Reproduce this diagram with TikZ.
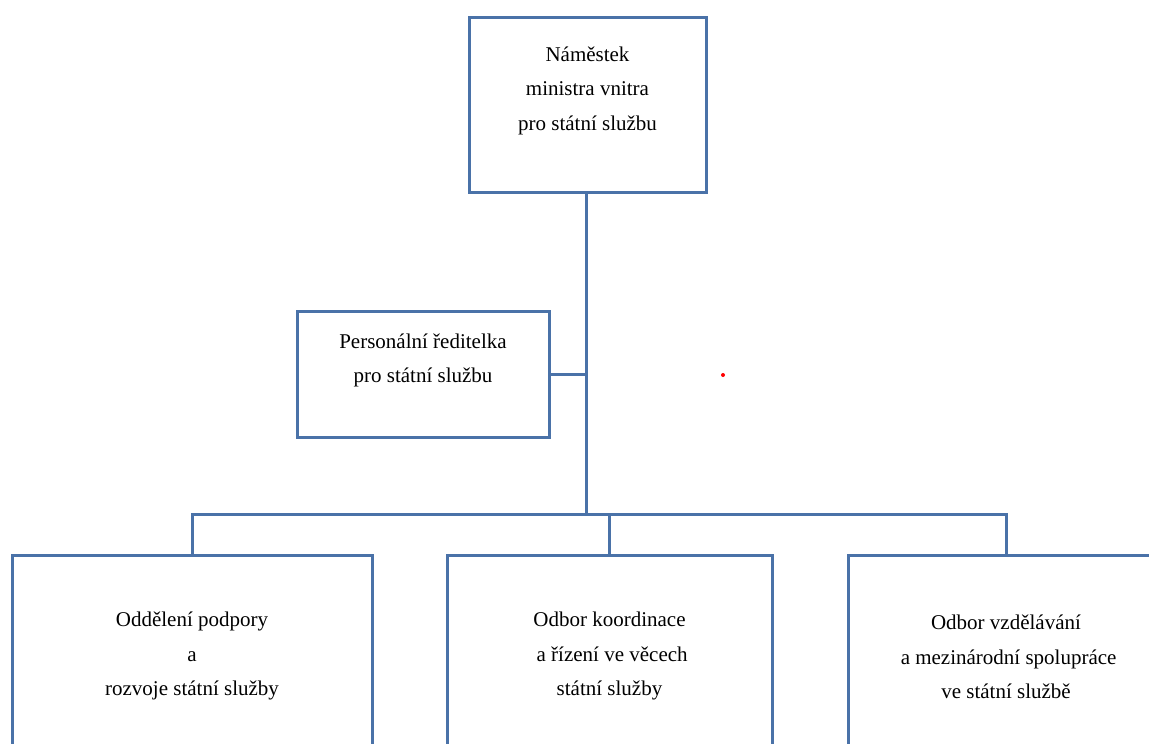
\documentclass[tikz,border=0pt]{standalone}
\usepackage{fontspec}
\setmainfont{Liberation Serif}
\definecolor{orgblue}{HTML}{4A72A8}
\begin{document}
\begin{tikzpicture}[x=1pt,y=-1pt,
  box/.style={draw=orgblue,line width=3pt,fill=white,inner sep=0pt,align=center,
    font=\fontsize{21}{34.5}\selectfont},
  txt/.style={align=center,inner sep=0pt,font=\fontsize{21}{34.5}\selectfont},
  conn/.style={draw=orgblue,line width=3pt}]
\clip (0,0) rectangle (1149,744);
\fill[white] (0,0) rectangle (1149,744);
% boxes
\node[box,minimum width=237pt,minimum height=175pt] (top) at (587.5,105) {};
\node[txt] (toptext) at (587.5,90.5) {Náměstek\\ministra vnitra\\pro státní službu};
\node[box,minimum width=252pt,minimum height=126pt] (pers) at (423,374) {};
\node[txt] (perstext) at (423,360.5) {Personální ředitelka\\pro státní službu};
\node[box,minimum width=360pt,minimum height=198pt] (bl) at (192,654) {};
\node[txt] (bltext) at (192,656) {Oddělení podpory\\a\\rozvoje státní služby};
\node[box,minimum width=325pt,minimum height=198pt] (mid) at (609.5,654) {};
\node[txt] (midtext) at (609.5,656) {Odbor koordinace\\\ a řízení ve věcech\\státní služby};
\node[box,minimum width=316pt,minimum height=198pt] (rt) at (1006,654) {};
\node[txt] (rttext) at (1006,657) {Odbor vzdělávání\\\ a mezinárodní spolupráce\\ve státní službě};
% connectors
\coordinate (j) at (586,514);
\draw[conn] (top.south -| j) -- (j);
\draw[conn] (pers.east) -- (pers.east -| j);
\draw[conn] (bl.north) -- (bl.north |- j) -- (rt.north |- j) -- (rt.north);
\draw[conn] (mid.north) -- (mid.north |- j);
% stray dot
\fill[red] (723,375) circle (2pt);
\end{tikzpicture}
\end{document}
